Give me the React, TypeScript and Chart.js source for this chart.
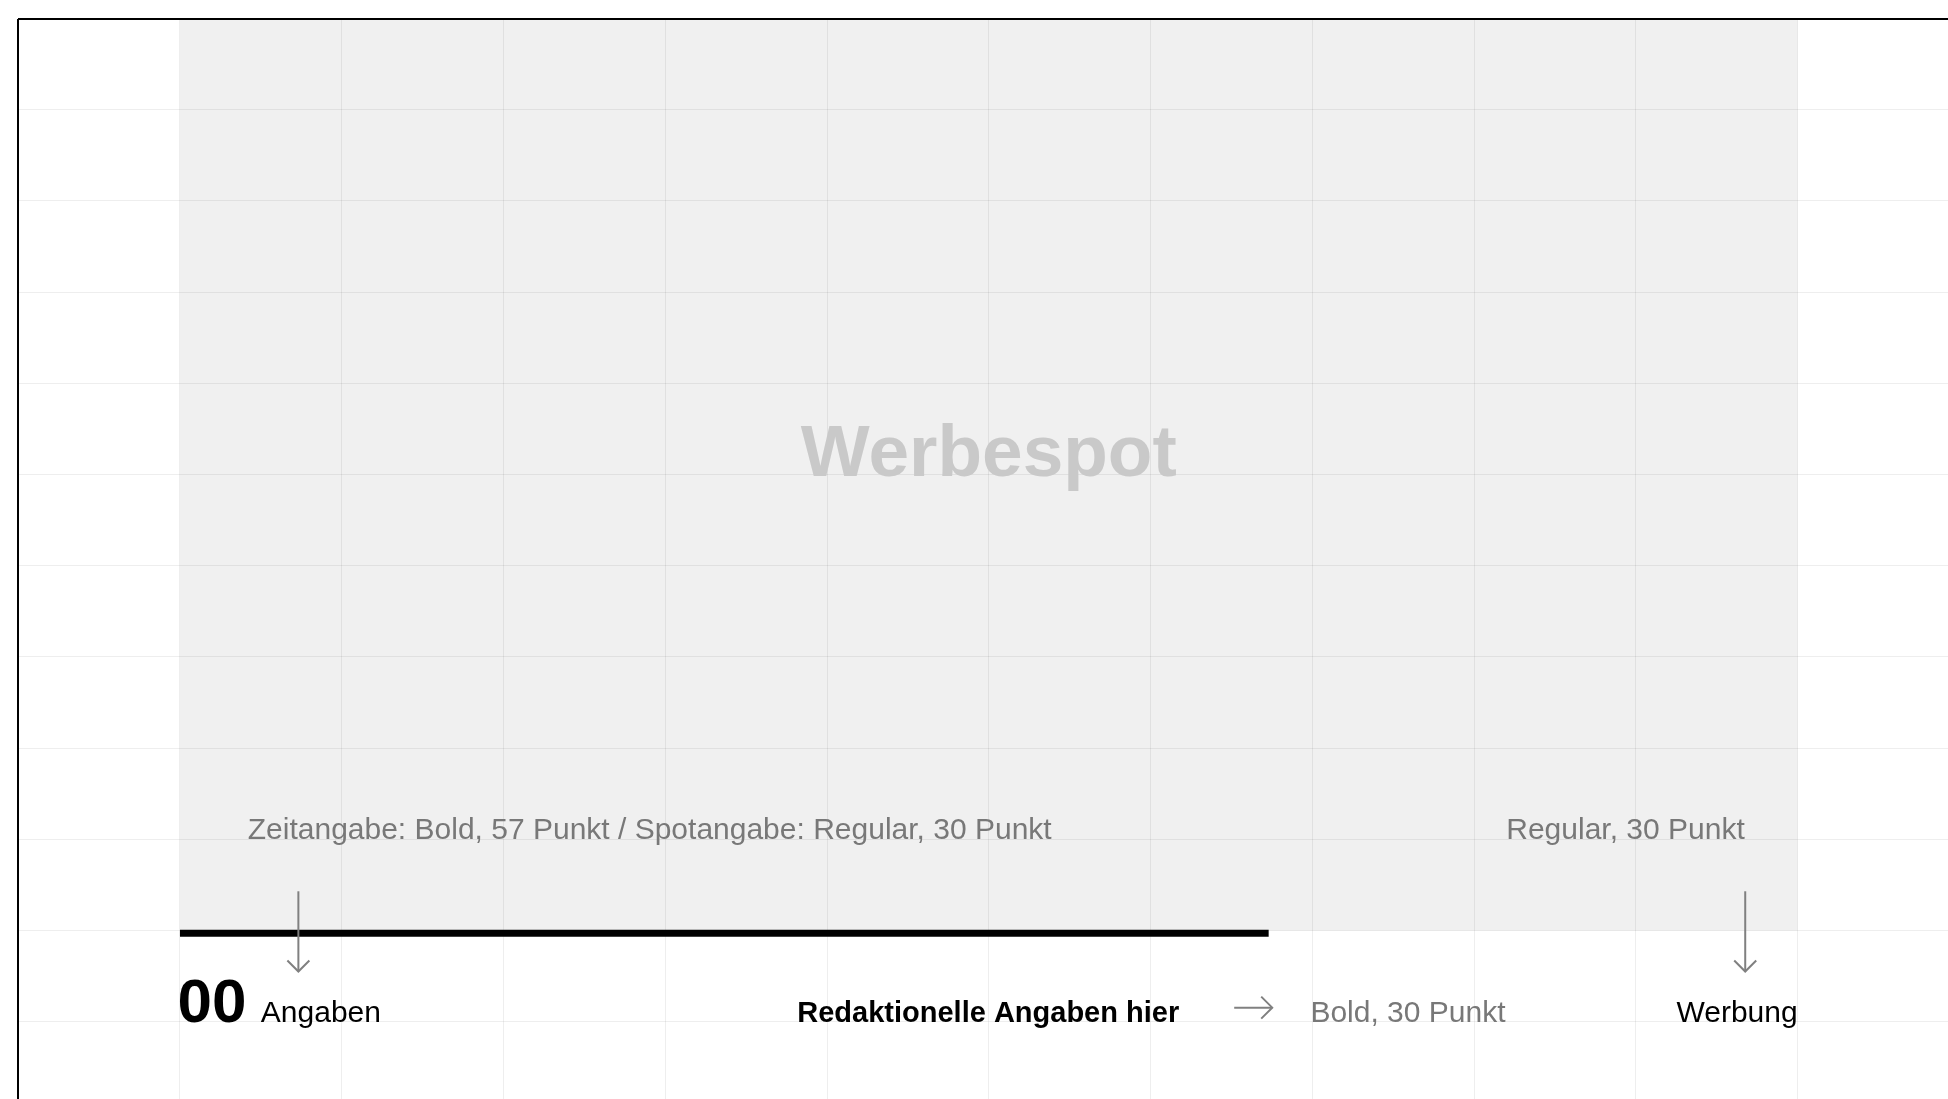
import React, { useEffect, useRef } from "react";
import { Chart, registerables } from "chart.js";

Chart.register(...registerables);

// Grid of the 16:9 broadcast frame (columns x rows)
const gridColumns = 12;
const gridRows = 12;

// Commercial block (Werbespot) area, in grid units
const spotColumnRange = [1, 11];
const spotRowRange = [0, 10];

// Progress bar of the commercial break, in grid units
const progressColumnRange = [1, 7.73];
const progressRow = 10.03;

// Texts
const spotTitle = "Werbespot";
const noteLeft = "Zeitangabe: Bold, 57 Punkt / Spotangabe: Regular, 30 Punkt";
const noteRight = "Regular, 30 Punkt";
const timeValue = "00";
const timeUnit = "Angaben";
const editorialText = "Redaktionelle Angaben hier";
const editorialNote = "Bold, 30 Punkt";
const adText = "Werbung";

const FONT = "'Liberation Sans', Arial, sans-serif";
const GRAY_TEXT = "#787878";
const ARROW = "#808080";

const labelLayout = [
  { text: spotTitle, x: 6, y: 5.02, align: "center", font: `bold 73px ${FONT}`, color: "#c9c9c9" },
  { text: noteLeft, x: 1.419, y: 9, align: "left", font: `30px ${FONT}`, color: GRAY_TEXT },
  { text: noteRight, x: 10.673, y: 9, align: "right", font: `30px ${FONT}`, color: GRAY_TEXT },
  { text: timeValue, x: 0.985, y: 11, align: "left", font: `bold 62px ${FONT}`, color: "#000" },
  { text: timeUnit, x: 1.5, y: 11, align: "left", font: `30px ${FONT}`, color: "#000" },
  { text: editorialText, x: 4.816, y: 11, align: "left", font: `bold 29px ${FONT}`, color: "#000" },
  { text: editorialNote, x: 7.988, y: 11, align: "left", font: `30px ${FONT}`, color: GRAY_TEXT },
  { text: adText, x: 11, y: 11, align: "right", font: `30px ${FONT}`, color: "#000" },
];

const downArrows = [
  { x: 1.732, from: 9.57, to: 10.45 },
  { x: 10.676, from: 9.57, to: 10.45 },
];
const rightArrows = [{ y: 10.846, from: 7.517, to: 7.752 }];

const annotationPlugin = {
  id: "annotations",
  afterDraw(chart: any) {
    const ctx = chart.ctx as CanvasRenderingContext2D;
    const xs = chart.scales.x;
    const ys = chart.scales.y;
    ctx.save();
    for (const l of labelLayout) {
      ctx.font = l.font;
      ctx.fillStyle = l.color;
      ctx.textAlign = l.align as CanvasTextAlign;
      ctx.textBaseline = "alphabetic";
      ctx.fillText(l.text, xs.getPixelForValue(l.x), ys.getPixelForValue(l.y));
    }
    ctx.strokeStyle = ARROW;
    ctx.lineWidth = 2;
    ctx.lineCap = "butt";
    ctx.lineJoin = "miter";
    for (const a of downArrows) {
      const px = xs.getPixelForValue(a.x);
      const y0 = ys.getPixelForValue(a.from);
      const y1 = ys.getPixelForValue(a.to);
      ctx.beginPath();
      ctx.moveTo(px, y0);
      ctx.lineTo(px, y1);
      ctx.stroke();
      ctx.beginPath();
      ctx.moveTo(px - 11, y1 - 11);
      ctx.lineTo(px, y1);
      ctx.lineTo(px + 11, y1 - 11);
      ctx.stroke();
    }
    for (const a of rightArrows) {
      const py = ys.getPixelForValue(a.y);
      const x0 = xs.getPixelForValue(a.from);
      const x1 = xs.getPixelForValue(a.to);
      ctx.beginPath();
      ctx.moveTo(x0, py);
      ctx.lineTo(x1, py);
      ctx.stroke();
      ctx.beginPath();
      ctx.moveTo(x1 - 11, py - 11);
      ctx.lineTo(x1, py);
      ctx.lineTo(x1 - 11, py + 11);
      ctx.stroke();
    }
    ctx.restore();
  },
};

const CANVAS_W = 1962;
const CANVAS_H = 1116;

export default function App() {
  const ref = useRef<HTMLCanvasElement>(null);

  useEffect(() => {
    const canvas = ref.current;
    if (!canvas) return;
    document.body.style.overflow = "hidden";
    const gridStyle = {
      color: (c: any) => (c.tick && c.tick.value === 0 ? "#000000" : "rgba(0,0,0,0.067)"),
      lineWidth: (c: any) => (c.tick && c.tick.value === 0 ? 2 : 1),
      drawTicks: false,
      z: 1,
    };
    const chart = new Chart(canvas, {
      type: "scatter",
      data: {
        datasets: [
          {
            label: spotTitle,
            data: [
              { x: spotColumnRange[0], y: spotRowRange[0] },
              { x: spotColumnRange[1], y: spotRowRange[0] },
            ],
            showLine: true,
            fill: { value: spotRowRange[1] },
            backgroundColor: "#f0f0f0",
            borderColor: "rgba(0,0,0,0)",
            borderWidth: 0,
            pointRadius: 0,
            order: 2,
          } as any,
          {
            label: "Fortschritt",
            data: [
              { x: progressColumnRange[0], y: progressRow },
              { x: progressColumnRange[1], y: progressRow },
            ],
            showLine: true,
            fill: false,
            borderColor: "#000000",
            borderWidth: 7,
            borderCapStyle: "butt",
            pointRadius: 0,
            order: 1,
          } as any,
        ],
      },
      options: {
        responsive: false,
        animation: false,
        devicePixelRatio: 1,
        events: [],
        layout: { padding: { left: 18.2, top: 18.5, right: 2.6, bottom: 3.1 } },
        plugins: {
          legend: { display: false },
          tooltip: { enabled: false },
          title: { display: false },
        },
        scales: {
          x: {
            type: "linear",
            position: "top",
            min: 0,
            max: gridColumns,
            ticks: { display: false, stepSize: 1, maxTicksLimit: 50 },
            grid: gridStyle,
            border: { display: false },
          },
          y: {
            type: "linear",
            position: "left",
            reverse: true,
            min: 0,
            max: gridRows,
            ticks: { display: false, stepSize: 1, maxTicksLimit: 50 },
            grid: gridStyle,
            border: { display: false },
          },
        },
      } as any,
      plugins: [annotationPlugin],
    });
    return () => chart.destroy();
  }, []);

  return (
    <div
      style={{
        position: "fixed",
        left: 0,
        top: 0,
        width: CANVAS_W,
        height: CANVAS_H,
        background: "#ffffff",
      }}
    >
      <canvas ref={ref} width={CANVAS_W} height={CANVAS_H} style={{ display: "block" }} />
    </div>
  );
}
